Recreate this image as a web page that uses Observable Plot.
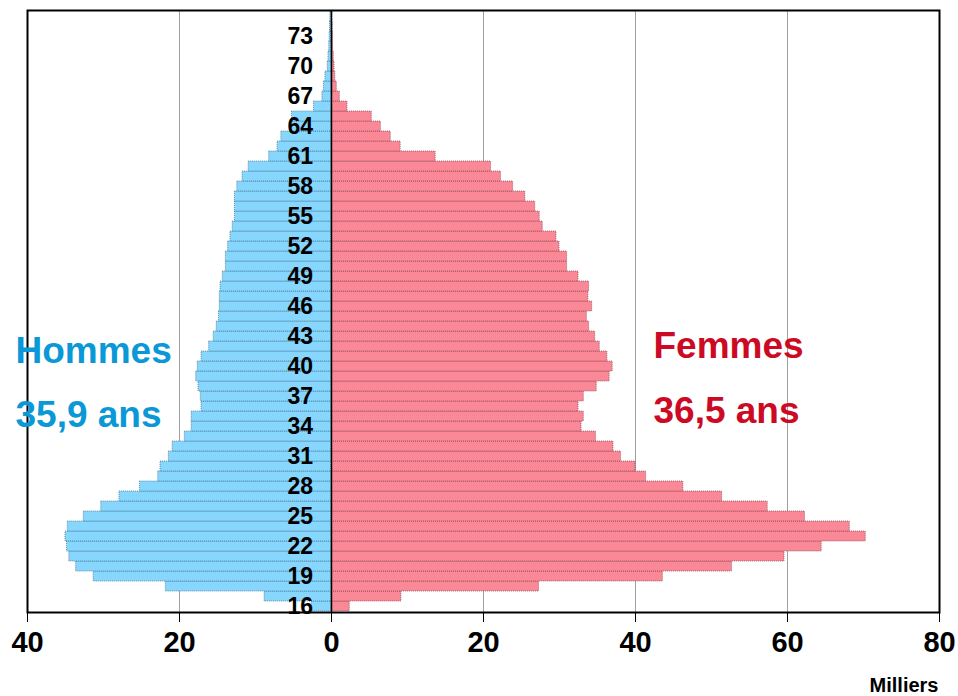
<!DOCTYPE html>
<html>
<head>
<meta charset="utf-8">
<script src="https://cdn.jsdelivr.net/npm/d3@7"></script>
<script src="https://cdn.jsdelivr.net/npm/@observablehq/plot@0.6"></script>
<style>
  html, body { margin: 0; padding: 0; background: #fff; }
  #chart svg { display: block; }
</style>
</head>
<body>
<div id="chart"></div>
<script>
// Ages (single years)
const ages = [16,17,18,19,20,21,22,23,24,25,26,27,28,29,30,31,32,33,34,35,36,37,38,39,40,41,42,43,44,45,
              46,47,48,49,50,51,52,53,54,55,56,57,58,59,60,61,62,63,64,65,66,67,68,69,70,71,72,73,74,75];
// Hommes (milliers)
const men = [2.6,8.8,21.8,31.3,33.6,34.5,34.8,35.0,34.7,32.6,30.3,27.9,25.2,22.8,22.5,21.4,20.9,19.3,18.4,18.4,
             17.1,17.2,17.5,17.8,17.6,17.1,16.1,15.5,15.1,14.8,14.7,14.7,14.6,14.3,13.9,13.9,13.6,13.3,13.0,12.7,
             12.7,12.7,12.4,11.7,10.9,8.2,7.1,6.6,5.4,5.2,2.3,1.2,1.0,0.8,0.5,0.4,0.3,0.25,0.2,0.15];
// Femmes (milliers)
const women = [2.4,9.2,27.3,43.6,52.7,59.6,64.5,70.3,68.2,62.3,57.4,51.4,46.3,41.4,40.0,38.1,37.1,34.8,32.9,33.2,
               32.5,33.2,34.9,36.6,37.0,36.3,35.3,34.7,33.9,33.6,34.3,33.8,33.9,32.5,31.0,31.0,30.0,29.6,27.8,27.4,
               26.8,25.5,23.9,22.3,21.0,13.7,9.1,7.8,6.5,5.3,2.1,1.1,0.7,0.5,0.4,0.3,0.2,0.2,0.15,0.1];
// Tick labels
const xTicks = [-40,-20,0,20,40,60,80];
const gridTicks = [-20,20,40,60];
const ageLabels = [16,19,22,25,28,31,34,37,40,43,46,49,52,55,58,61,64,67,70,73];

const menData = ages.map((a, i) => ({age: a, value: -men[i]}));
const womenData = ages.map((a, i) => ({age: a, value: women[i]}));

const bold = "bold";
const chart = Plot.plot({
  width: 958,
  height: 696,
  marginLeft: 27,
  marginRight: 19,
  marginTop: 10,
  marginBottom: 84,
  style: {fontFamily: "'Liberation Sans', Arial, sans-serif", background: "#fff", color: "#000"},
  x: {domain: [-40, 80]},
  y: {domain: ages.slice().reverse(), padding: 0, axis: null},
  marks: [
    Plot.ruleX(gridTicks, {stroke: "#a0a0a0", strokeWidth: 1}),
    Plot.barX(menData, {x: "value", y: "age", fill: "#86d6fe", stroke: "#3d5f75", strokeWidth: 0.8, strokeDasharray: "1,1", strokeOpacity: 0.8}),
    Plot.barX(womenData, {x: "value", y: "age", fill: "#fb8896", stroke: "#6e3a42", strokeWidth: 0.8, strokeDasharray: "1,1", strokeOpacity: 0.8}),
    Plot.ruleX([0], {stroke: "#000", strokeWidth: 1.5}),
    Plot.frame({stroke: "#000", strokeWidth: 2}),
    Plot.axisX({ticks: xTicks, tickFormat: d => Math.abs(d), tickSize: 10, tickPadding: 9,
                fontSize: 29, fontWeight: bold, label: null, stroke: "#000"}),
    Plot.text(ageLabels, {x: -4.1, y: d => d, text: d => String(d), fontSize: 23, fontWeight: bold, fill: "#000"}),
    Plot.text(["Hommes"], {frameAnchor: "top-left", dx: -12, dy: 352, lineAnchor: "bottom", textAnchor: "start",
                           fontSize: 37, fontWeight: bold, fill: "#0a98d6"}),
    Plot.text(["35,9 ans"], {frameAnchor: "top-left", dx: -12, dy: 416, lineAnchor: "bottom", textAnchor: "start",
                           fontSize: 37, fontWeight: bold, fill: "#0a98d6"}),
    Plot.text(["Femmes"], {frameAnchor: "top-left", dx: 626, dy: 347, lineAnchor: "bottom", textAnchor: "start",
                           fontSize: 37, fontWeight: bold, fill: "#cc0a24"}),
    Plot.text(["36,5 ans"], {frameAnchor: "top-left", dx: 626, dy: 412, lineAnchor: "bottom", textAnchor: "start",
                           fontSize: 37, fontWeight: bold, fill: "#cc0a24"}),
    Plot.text(["Milliers"], {frameAnchor: "bottom-right", dx: -1, dy: 79, lineAnchor: "bottom", textAnchor: "end",
                           fontSize: 20, fontWeight: bold, fill: "#000"})
  ]
});
document.getElementById("chart").appendChild(chart);
</script>
</body>
</html>
